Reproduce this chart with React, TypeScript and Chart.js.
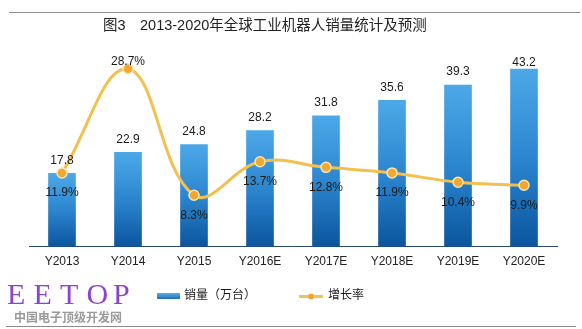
import React, { useEffect, useRef } from "react";
import { Chart, registerables } from "chart.js";
Chart.register(...registerables);

const categories = ["Y2013", "Y2014", "Y2015", "Y2016E", "Y2017E", "Y2018E", "Y2019E", "Y2020E"];
const sales = [17.8, 22.9, 24.8, 28.2, 31.8, 35.6, 39.3, 43.2];
const growth = [11.9, 28.7, 8.3, 13.7, 12.8, 11.9, 10.4, 9.9];
const titleLead = "图3";
const titleMain = "2013-2020年全球工业机器人销量统计及预测";
const legendSales = "销量（万台）";
const legendGrowth = "增长率";
const wmLetters = ["E", "E", "T", "O", "P"];
const wmSub = "中国电子顶级开发网";

const SANS = "'Liberation Sans', Arial, sans-serif";
const CJK = "'Liberation Sans', 'Noto Sans CJK SC', sans-serif";

const labelPlugin = {
  id: "valueLabels",
  afterDatasetsDraw(chart: any) {
    const ctx = chart.ctx;
    ctx.save();
    ctx.font = `12px ${SANS}`;
    ctx.fillStyle = "#1a1a1a";
    ctx.textAlign = "center";
    ctx.textBaseline = "middle";
    const bm = chart.getDatasetMeta(0);
    bm.data.forEach((el: any, i: number) => {
      const y = Math.max(el.y - 13, chart.chartArea.top + 22);
      ctx.fillText(String(sales[i]), el.x, y);
    });
    const lm = chart.getDatasetMeta(1);
    lm.data.forEach((el: any, i: number) => {
      const v = growth[i];
      const isPeak = v === Math.max(...growth);
      const y = isPeak ? el.y - 7 : el.y + 20;
      ctx.fillText(v.toFixed(1) + "%", el.x, y);
    });
    ctx.restore();
  },
};

const decorPlugin = {
  id: "decor",
  afterDraw(chart: any) {
    const ctx = chart.ctx;
    ctx.save();
    ctx.strokeStyle = "#8c8c8c";
    ctx.lineWidth = 1;
    ctx.beginPath();
    ctx.moveTo(9, 12.5);
    ctx.lineTo(580, 12.5);
    ctx.moveTo(6, 326.5);
    ctx.lineTo(576, 326.5);
    ctx.stroke();
    // title
    ctx.fillStyle = "#222";
    ctx.textBaseline = "middle";
    ctx.textAlign = "left";
    ctx.font = `14.5px ${CJK}`;
    ctx.fillText(titleLead, 103, 26);
    ctx.fillText(titleMain, 140, 26);
    // legend: bars
    const g = ctx.createLinearGradient(0, 293, 0, 300);
    g.addColorStop(0, "#5aaee8");
    g.addColorStop(1, "#1565ad");
    ctx.fillStyle = g;
    ctx.fillRect(157, 293, 23, 6);
    ctx.fillStyle = "#1a1a1a";
    ctx.font = `12px ${CJK}`;
    ctx.fillText(legendSales, 184, 296);
    // legend: line
    ctx.strokeStyle = "#f2c25a";
    ctx.lineWidth = 3;
    ctx.beginPath();
    ctx.moveTo(299, 296.5);
    ctx.lineTo(323, 296.5);
    ctx.stroke();
    ctx.beginPath();
    ctx.arc(311, 296.5, 3, 0, Math.PI * 2);
    ctx.fillStyle = "#f0a830";
    ctx.fill();
    ctx.fillStyle = "#1a1a1a";
    ctx.fillText(legendGrowth, 328, 296);
    // watermark
    ctx.fillStyle = "#8b44d2";
    ctx.font = `30px 'Liberation Serif', 'DejaVu Serif', serif`;
    ctx.textBaseline = "alphabetic";
    wmLetters.forEach((c, i) => ctx.fillText(c, 7 + i * 26.5, 304));
    ctx.fillStyle = "#9a9a9a";
    ctx.font = `bold 12px 'Noto Sans CJK SC', sans-serif`;
    ctx.textBaseline = "middle";
    ctx.fillText(wmSub, 14, 317);
    ctx.restore();
  },
};

function barGradient(ctx: any) {
  const chart = ctx.chart;
  const area = chart.chartArea;
  if (!area || ctx.type !== "data") return "#2f86cf";
  const yScale = chart.scales.y;
  const top = yScale.getPixelForValue(ctx.raw);
  const base = yScale.getPixelForValue(0);
  const g = chart.ctx.createLinearGradient(0, top, 0, base);
  g.addColorStop(0, "#4da8e8");
  g.addColorStop(0.5, "#2c86cf");
  g.addColorStop(1, "#0b559e");
  return g;
}

export default function App() {
  const ref = useRef<HTMLCanvasElement>(null);
  useEffect(() => {
    document.body.style.margin = "0";
    const chart = new Chart(ref.current as HTMLCanvasElement, {
      type: "bar",
      data: {
        labels: categories,
        datasets: [
          {
            type: "bar",
            label: legendSales,
            data: sales,
            yAxisID: "y",
            backgroundColor: barGradient,
            barThickness: 27,
            order: 2,
          },
          {
            type: "line",
            label: legendGrowth,
            data: growth,
            yAxisID: "y1",
            borderColor: "#f2c04e",
            borderWidth: 3,
            tension: 0.4,
            pointRadius: 5,
            pointBackgroundColor: "#f0a830",
            pointBorderColor: "#fbe6b8",
            pointBorderWidth: 1.5,
            order: 1,
          },
        ] as any,
      },
      options: {
        animation: false,
        responsive: false,
        devicePixelRatio: 1,
        layout: { padding: { left: 29, right: 25, top: 41, bottom: 52 } },
        plugins: { legend: { display: false }, title: { display: false }, tooltip: { enabled: false } },
        scales: {
          x: {
            grid: { display: false, drawTicks: false },
            border: { display: true, color: "#2c4a6e", width: 1 },
            ticks: { color: "#222", font: { size: 12, family: SANS }, padding: 8, maxRotation: 0 },
          },
          y: { display: false, min: 0, max: 50 },
          y1: { display: false, min: 0, max: 33.2 },
        },
      },
      plugins: [labelPlugin, decorPlugin],
    });
    return () => chart.destroy();
  }, []);
  return (
    <div style={{ width: 582, height: 329, background: "#fff" }}>
      <canvas ref={ref} width={582} height={329} style={{ width: 582, height: 329, display: "block" }} />
    </div>
  );
}
